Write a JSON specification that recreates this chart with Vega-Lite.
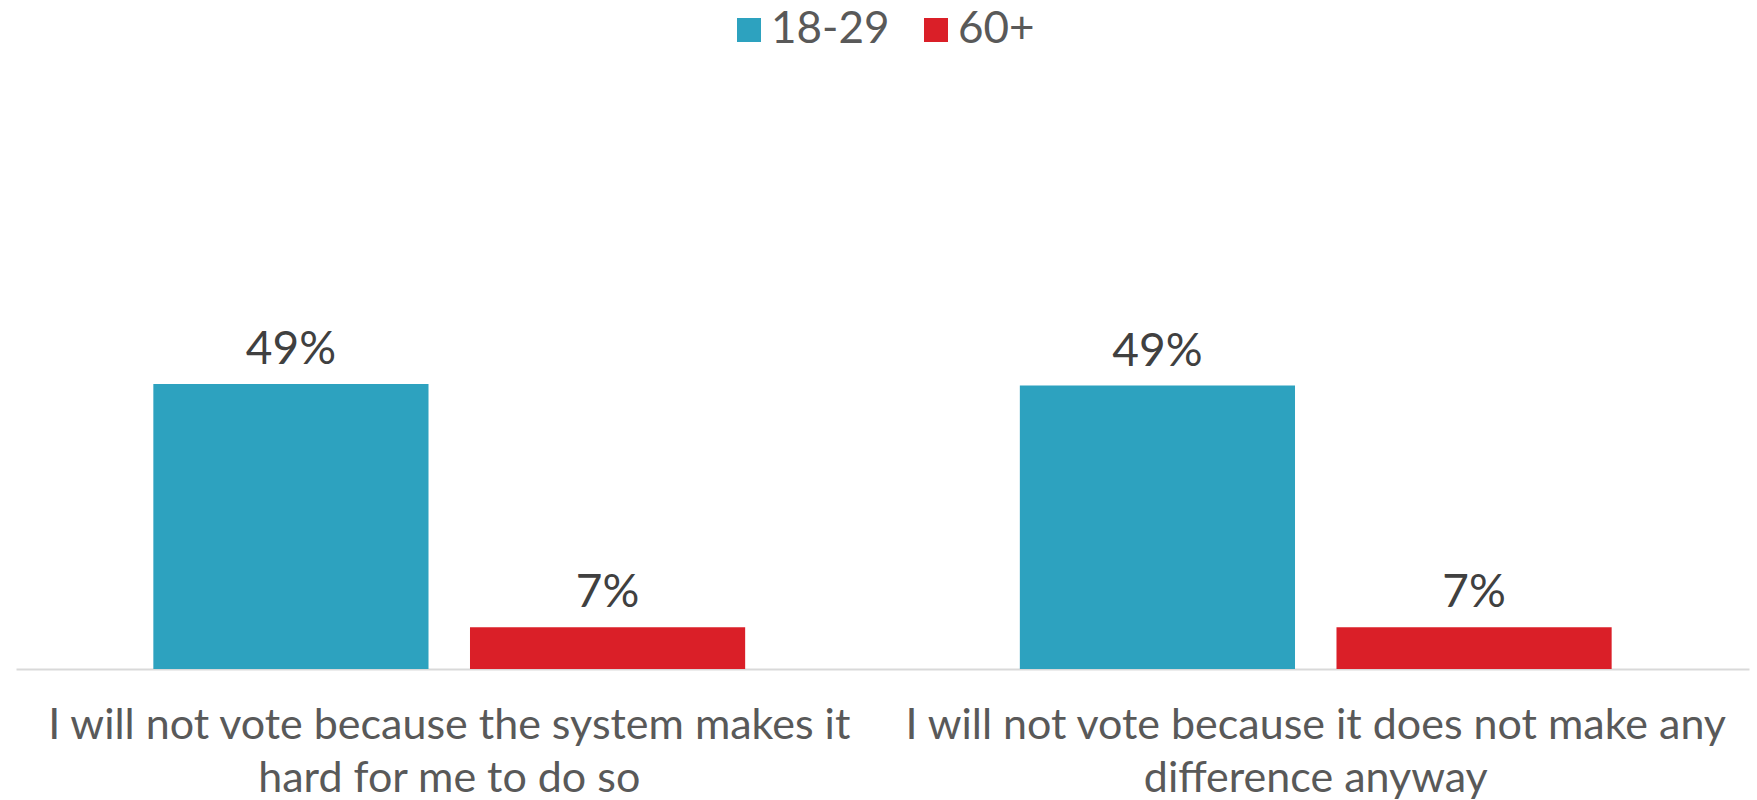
{
  "$schema": "https://vega.github.io/schema/vega-lite/v6.json",
  "width": 1733,
  "height": 347,
  "autosize": {"type": "none"},
  "padding": {"left": 16, "top": 322, "right": 8, "bottom": 131},
  "background": "white",
  "data": {
    "values": [
      {"reason": "I will not vote because the system makes it hard for me to do so", "age": "18-29", "share": 0.493},
      {"reason": "I will not vote because the system makes it hard for me to do so", "age": "60+", "share": 0.072},
      {"reason": "I will not vote because it does not make any difference anyway", "age": "18-29", "share": 0.490},
      {"reason": "I will not vote because it does not make any difference anyway", "age": "60+", "share": 0.072}
    ]
  },
  "encoding": {
    "x": {
      "field": "reason",
      "type": "nominal",
      "sort": null,
      "scale": {"paddingInner": 0.317, "paddingOuter": 0.1585},
      "axis": {
        "title": null,
        "labelAngle": 0,
        "ticks": false,
        "domainColor": "#d9d9d9",
        "domainWidth": 2,
        "labelFont": "Lato",
        "labelFontSize": 43,
        "labelColor": "#595959",
        "labelPadding": 35,
        "labelLineHeight": 53,
        "labelLimit": 0,
        "labelExpr": "datum.value == 'I will not vote because the system makes it hard for me to do so' ? ['I will not vote because the system makes it', 'hard for me to do so'] : ['I will not vote because it does not make any', 'difference anyway']"
      }
    },
    "xOffset": {
      "field": "age",
      "type": "nominal",
      "sort": ["18-29", "60+"],
      "scale": {"paddingInner": 0.131, "paddingOuter": 0}
    },
    "y": {
      "field": "share",
      "type": "quantitative",
      "scale": {"domain": [0, 0.6]},
      "axis": null
    }
  },
  "layer": [
    {
      "mark": {"type": "bar"},
      "encoding": {
        "color": {
          "field": "age",
          "type": "nominal",
          "scale": {"domain": ["18-29", "60+"], "range": ["#2DA2BF", "#DA1F28"]},
          "legend": {
            "orient": "none",
            "legendX": 711,
            "legendY": -314,
            "direction": "horizontal",
            "title": null,
            "symbolType": "square",
            "symbolSize": 576,
            "symbolStrokeWidth": 0,
            "labelOffset": 0,
            "columnPadding": 24,
            "padding": 0,
            "labelFont": "Lato",
            "labelFontSize": 44,
            "labelColor": "#595959"
          }
        }
      }
    },
    {
      "mark": {
        "type": "text",
        "baseline": "alphabetic",
        "dy": -20,
        "font": "Lato",
        "fontSize": 46,
        "color": "#404040"
      },
      "encoding": {
        "text": {"field": "share", "type": "quantitative", "format": ".0%"}
      }
    }
  ],
  "config": {"view": {"stroke": null}}
}
